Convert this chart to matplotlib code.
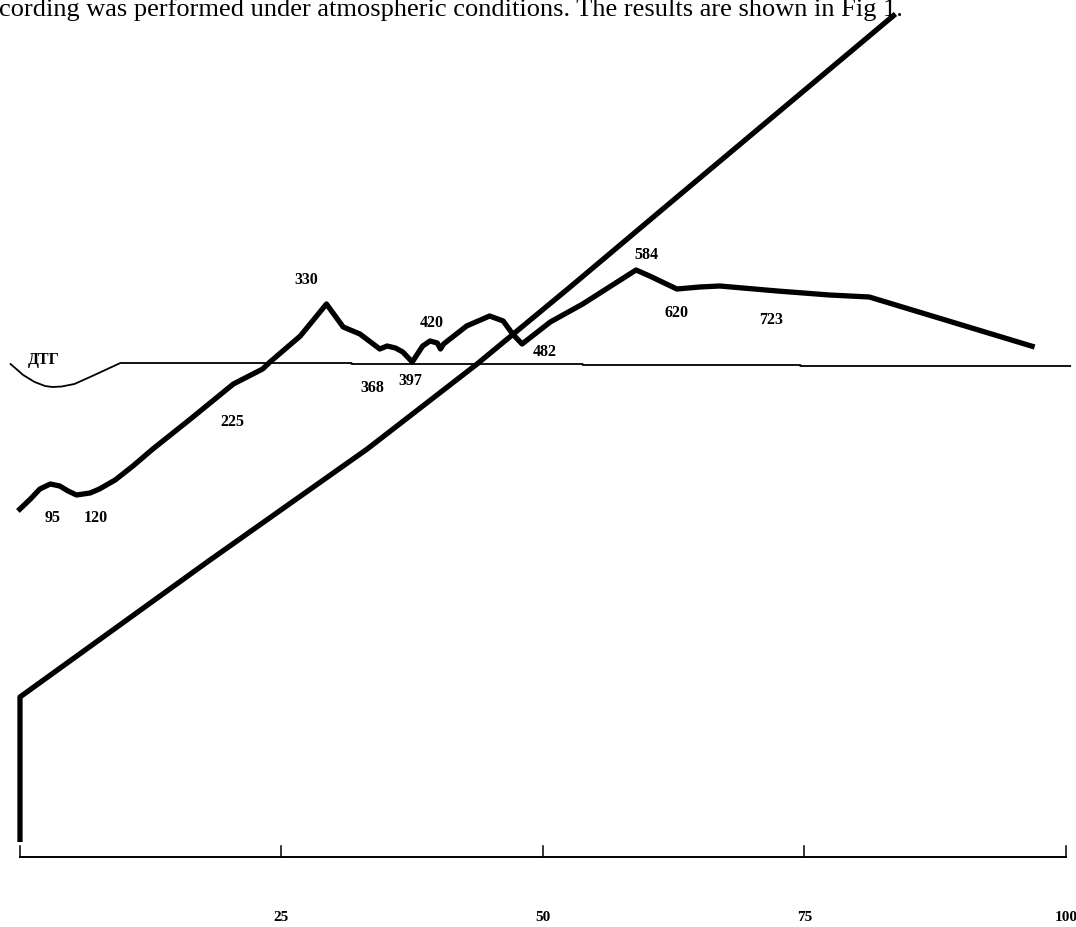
import matplotlib.pyplot as plt

# time axis (min), arbitrary signal units above the time axis

# temperature curve
temp_t = [0, 0, 17.9, 33.2, 43.7, 52.6, 62.6, 83.7]
temp_y = [15, 160, 295, 408, 493, 570, 658, 843]

# DTG curve (thin)
dtg_t = [-0.9, 0.3, 1.4, 2.4, 3.1, 4.0, 5.2, 6.7, 9.6, 31.7, 31.7, 53.8, 53.8, 74.6, 74.6, 100.4]
dtg_y = [493, 482, 475, 471, 470, 470.5, 473, 480, 494, 494, 493, 493, 492, 492, 491, 491]

# DTA curve (thick)
dta_t = [-0.2, 1.0, 1.9, 2.9, 3.8, 4.6, 5.4, 6.7, 7.6, 9.1, 10.8, 12.7, 16.3, 20.4,
         23.2, 23.9, 26.8, 29.3, 30.9, 32.5, 34.4, 35.1, 35.9, 36.6, 37.5, 38.5,
         39.2, 39.9, 40.2, 40.5, 42.7, 44.9, 46.2, 47.1, 48.0, 50.7, 53.8, 57.1,
         58.9, 60.2, 62.8, 65.0, 66.9, 72.4, 77.4, 81.2, 97.0]
dta_y = [346, 358, 368, 373, 371, 366, 362, 364, 368, 377, 391, 408, 438, 473,
         488, 495, 521, 553, 530, 523, 508, 511, 509, 505, 495, 511,
         516, 514, 508, 513, 531, 541, 536, 523, 513, 535, 553, 575,
         587, 581, 568, 570, 571, 566, 562, 560, 510]

# peak temperatures (°C) and where they are written
peak_labels = ["95", "120", "225", "330", "368", "397", "420", "482", "584", "620", "723"]
peak_t = [3.1, 7.2, 20.3, 27.4, 33.7, 37.3, 39.4, 50.2, 59.9, 62.8, 71.8]
peak_y = [340, 340, 436, 578, 470, 477, 535, 506, 603, 545, 538]

xticks = [0, 25, 50, 75, 100]
xtick_labels = ["", "25", "50", "75", "100"]

fig = plt.figure(figsize=(10.76, 9.28), dpi=100)
ax = fig.add_axes([0, 0, 1, 1])
ax.set_xlim(-1.91, 100.96)
ax.set_ylim(-70, 858)
ax.axis("off")

thick = dict(color="black", lw=3.8, solid_joinstyle="round", solid_capstyle="butt")
ax.plot(temp_t, temp_y, **thick)
ax.plot(dta_t, dta_y, **thick)
ax.plot(dtg_t, dtg_y, color="black", lw=1.3)

# time axis
ax.plot([xticks[0], xticks[-1]], [0, 0], color="black", lw=1.4)
for t, lab in zip(xticks, xtick_labels):
    ax.plot([t, t], [0, 11], color="black", lw=1.1)
    ax.text(t, -60, lab, ha="center", va="center", family="Liberation Serif",
            weight="bold", fontsize=11)

serif = dict(family="Liberation Serif", weight="bold", fontsize=11.5, ha="center", va="center")
for lab, t, y in zip(peak_labels, peak_t, peak_y):
    ax.text(t, y, lab, **serif)
ax.text(2.3, 498, "ДТГ", **serif)

# caption line cut off at the top of the scan
ax.text(-2.0, 842, "cording was performed under atmospheric conditions. The results are shown in Fig 1.",
        ha="left", va="baseline", family="Liberation Serif", fontsize=19)

fig.savefig("out.png", dpi=100)
